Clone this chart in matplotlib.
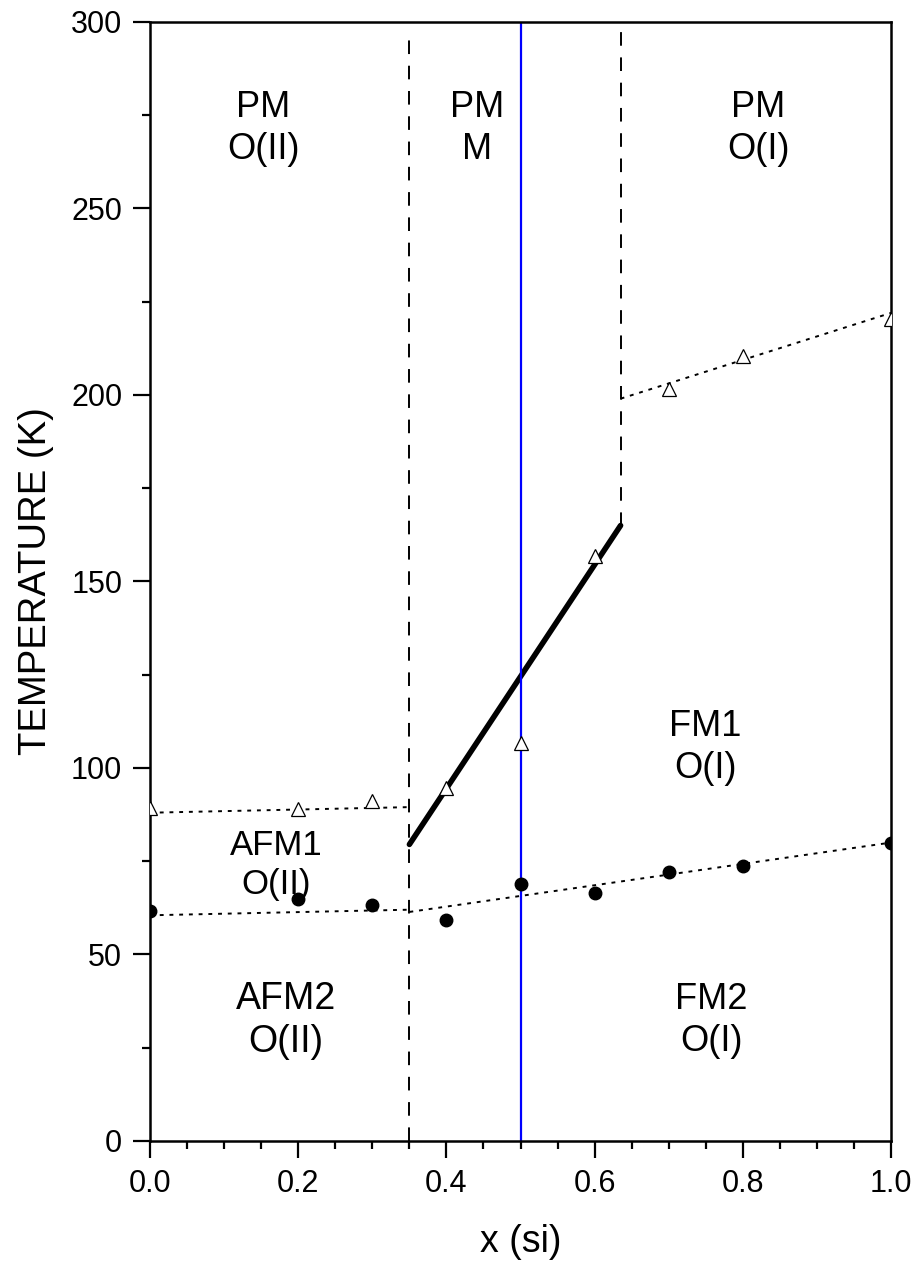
import matplotlib
matplotlib.use("Agg")
import matplotlib.pyplot as plt
from matplotlib.ticker import MultipleLocator

plt.rcParams["font.family"] = ["Liberation Sans", "DejaVu Sans"]

# ── data ──
x_tri = [0.0, 0.2, 0.3, 0.4, 0.5, 0.6, 0.7, 0.8, 1.0]
t_tri = [89.3, 89.0, 91.2, 94.6, 106.7, 156.8, 201.6, 210.4, 220.4]

x_dot = [0.0, 0.2, 0.3, 0.4, 0.5, 0.6, 0.7, 0.8, 1.0]
t_dot = [61.7, 64.9, 63.3, 59.2, 68.9, 66.5, 72.1, 73.7, 79.9]

# phase boundaries
afm1_x, afm1_t = [0.0, 0.35], [88.0, 89.5]
afm2_x, afm2_t = [0.0, 0.35], [60.5, 62.0]
fm2_x, fm2_t = [0.35, 1.0], [61.4, 80.0]
pmo_x, pmo_t = [0.635, 1.0], [199.0, 222.0]
struct_x, struct_t = [0.35, 0.635], [79.5, 165.0]
x_left_wall, x_right_wall = 0.35, 0.635
x_marker = 0.5

labels = [
    (0.1525, 271.4, "PM\nO(II)", 26),
    (0.441, 271.4, "PM\nM", 26),
    (0.8205, 271.4, "PM\nO(I)", 26),
    (0.170, 74.0, "AFM1\nO(II)", 25),
    (0.749, 105.5, "FM1\nO(I)", 26),
    (0.183, 32.3, "AFM2\nO(II)", 27),
    (0.758, 32.3, "FM2\nO(I)", 26),
]

fig = plt.figure(figsize=(9.21, 12.69), dpi=100)
ax = fig.add_axes([0.1629, 0.1009, 0.8046, 0.8818])

# dotted boundaries
for xs, ts in [(afm1_x, afm1_t), (afm2_x, afm2_t), (fm2_x, fm2_t), (pmo_x, pmo_t)]:
    ax.plot(xs, ts, color="black", lw=1.4, ls=(0, (2, 3)))

# dashed vertical boundaries
ax.plot([x_left_wall, x_left_wall], [0, 297], color="black", lw=1.4, ls=(0, (7, 6)))
ax.plot([x_right_wall, x_right_wall], [struct_t[1], 300], color="black", lw=1.4, ls=(0, (7, 6)))

# structural transition line
ax.plot(struct_x, struct_t, color="black", lw=4, solid_capstyle="round")

# blue marker line
ax.axvline(x_marker, color="#0000ff", lw=1.6)

ax.plot(x_tri, t_tri, ls="none", marker="^", ms=10, mfc="white", mec="black", mew=0.9, zorder=5)
ax.plot(x_dot, t_dot, ls="none", marker="o", ms=9, mfc="black", mec="black", zorder=5)

for x, t, s, fs in labels:
    ax.text(x, t, s, ha="center", va="center", fontsize=fs, linespacing=1.25)

ax.set_xlim(0, 1.0)
ax.set_ylim(0, 300)
ax.xaxis.set_major_locator(MultipleLocator(0.2))
ax.xaxis.set_minor_locator(MultipleLocator(0.05))
ax.yaxis.set_major_locator(MultipleLocator(50))
ax.yaxis.set_minor_locator(MultipleLocator(25))
ax.xaxis.set_major_formatter(plt.FuncFormatter(lambda v, p: f"{v:.1f}"))

ax.tick_params(which="major", direction="out", length=12, width=1.6, labelsize=22, pad=8)
ax.tick_params(which="minor", direction="out", length=6, width=1.6)
for sp in ax.spines.values():
    sp.set_linewidth(1.8)

ax.set_xlabel("x (si)", fontsize=27, labelpad=18)
ax.set_ylabel("TEMPERATURE (K)", fontsize=27.5, labelpad=12)

fig.savefig("out.png", dpi=100, facecolor="white")
